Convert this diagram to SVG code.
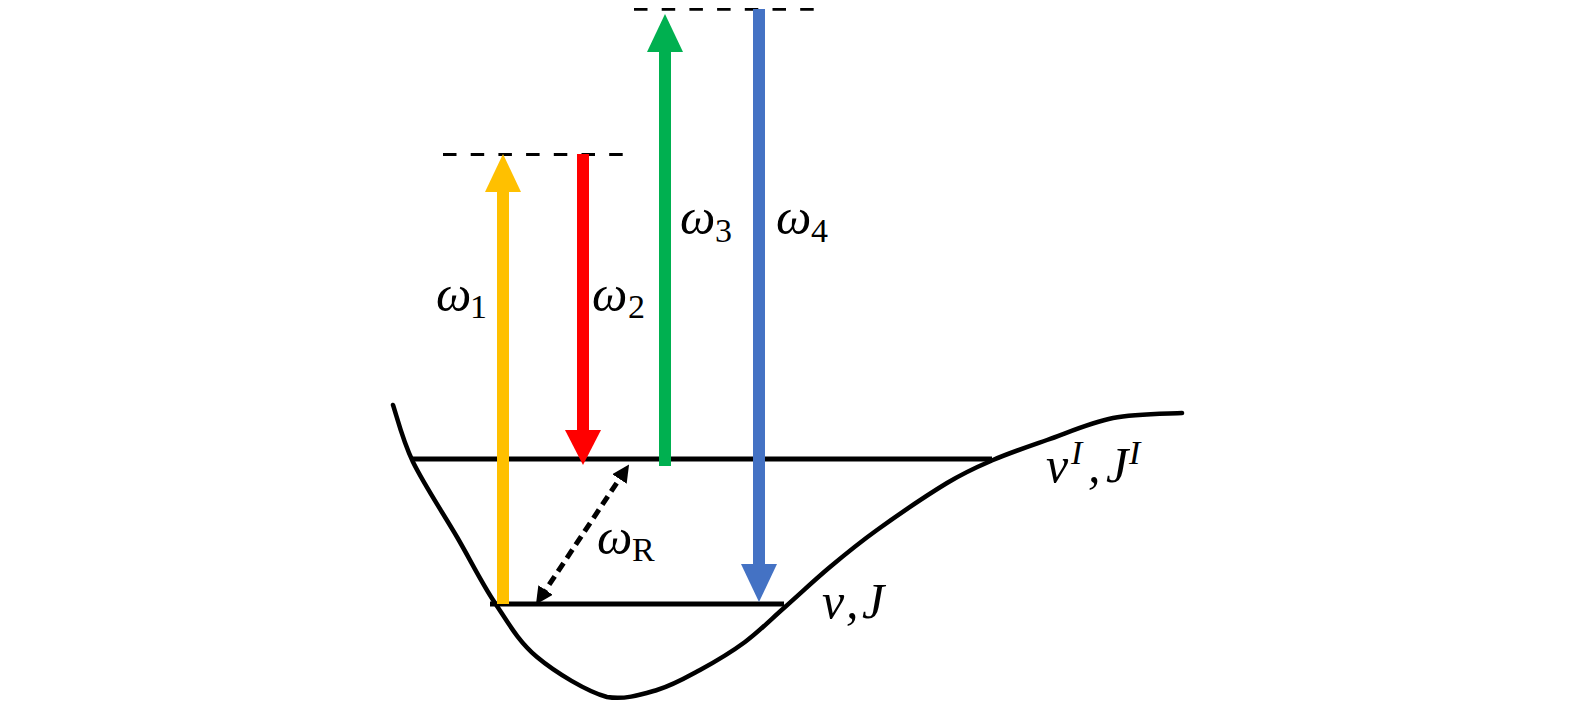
<svg xmlns="http://www.w3.org/2000/svg" width="1575" height="709" viewBox="0 0 1575 709">
<style>
.lvl{stroke:#000;stroke-width:5;fill:none}
.dash{stroke:#000;stroke-width:2.8;stroke-dasharray:13.5 14.2;fill:none}
.curve{stroke:#000;stroke-width:4.5;fill:none;stroke-linejoin:round;stroke-linecap:round}
.m{font-family:"Liberation Serif",serif;font-style:italic;font-size:50px;fill:#000}
.s{font-family:"Liberation Serif",serif;font-size:34px;fill:#000}
</style>
<defs>
<marker id="ah" viewBox="0 0 10 10" refX="5.5" refY="5" markerWidth="3.5" markerHeight="3.5" orient="auto-start-reverse" markerUnits="strokeWidth">
<path d="M0,0 L10,5 L0,10 z" fill="#000"/>
</marker>
</defs>
<g id="potential">
<path class="curve" d="M393,405 C396.3,414.5 402.3,440 413,462 C423.7,484 443.3,513.5 457,537 C470.7,560.5 481.7,583 495,603 C508.3,623 518.3,641.3 537,657 C555.7,672.7 587,691.5 607,697 C625,700 641.5,694.5 657,690 C672.5,685.5 685.3,678 700,670 C714.7,662 730.8,652.5 745,642 C759.2,631.5 770.8,619.5 785,607 C799.2,594.5 814.7,579.8 830,567 C845.3,554.2 857.5,544 877,530 C896.5,516 927.7,494.7 947,483 C966.3,471.3 976.3,467.2 993,460 C1009.7,452.8 1027,447 1047,440 C1067,433 1090.5,422.5 1113,418 C1135.5,413.5 1170.5,413.8 1182,413"/>
</g>
<g id="levels">
<line class="lvl" x1="412" y1="459" x2="992" y2="459"/>
<line class="lvl" x1="490" y1="604" x2="784" y2="604"/>
<line class="dash" x1="443" y1="154.5" x2="623" y2="154.5"/>
<line class="dash" x1="634" y1="9.3" x2="815" y2="9.3"/>
</g>
<g id="connectors">
<g id="w1">
<rect x="497" y="190" width="12" height="414" fill="#FFC000"/>
<polygon points="485,192 521,192 503,154" fill="#FFC000"/>
</g>
<g id="w2">
<rect x="577" y="154" width="12" height="278" fill="#FF0000"/>
<polygon points="565,430 601,430 583,465" fill="#FF0000"/>
</g>
<g id="w3">
<rect x="659" y="50" width="12" height="416" fill="#00B050"/>
<polygon points="647,52 683,52 665,14" fill="#00B050"/>
</g>
<g id="w4">
<rect x="753" y="9" width="12" height="557" fill="#4472C4"/>
<polygon points="741,564 777,564 759,602" fill="#4472C4"/>
</g>
<line id="wR" x1="540.3" y1="598" x2="624.7" y2="471" stroke="#000" stroke-width="5" stroke-dasharray="10 6" marker-start="url(#ah)" marker-end="url(#ah)"/>
</g>
<g id="labels">
<text x="436" y="311" class="m">ω</text><text x="470" y="318" class="s">1</text>
<text x="592" y="311" class="m">ω</text><text x="628" y="318" class="s">2</text>
<text x="680" y="234" class="m">ω</text><text x="715" y="242" class="s">3</text>
<text x="776" y="234" class="m">ω</text><text x="811" y="242" class="s">4</text>
<text x="597" y="554" class="m">ω</text><text x="632" y="561" class="s">R</text>
<text x="1046" y="482" class="m">v</text><text x="1071" y="464" class="s" font-style="italic">I</text><text x="1088" y="482" class="m">,</text><text x="1106" y="482" class="m">J</text><text x="1129" y="464" class="s" font-style="italic">I</text>
<text x="822" y="618" class="m">v</text><text x="846" y="618" class="m">,</text><text x="862" y="618" class="m">J</text>
</g>
</svg>
